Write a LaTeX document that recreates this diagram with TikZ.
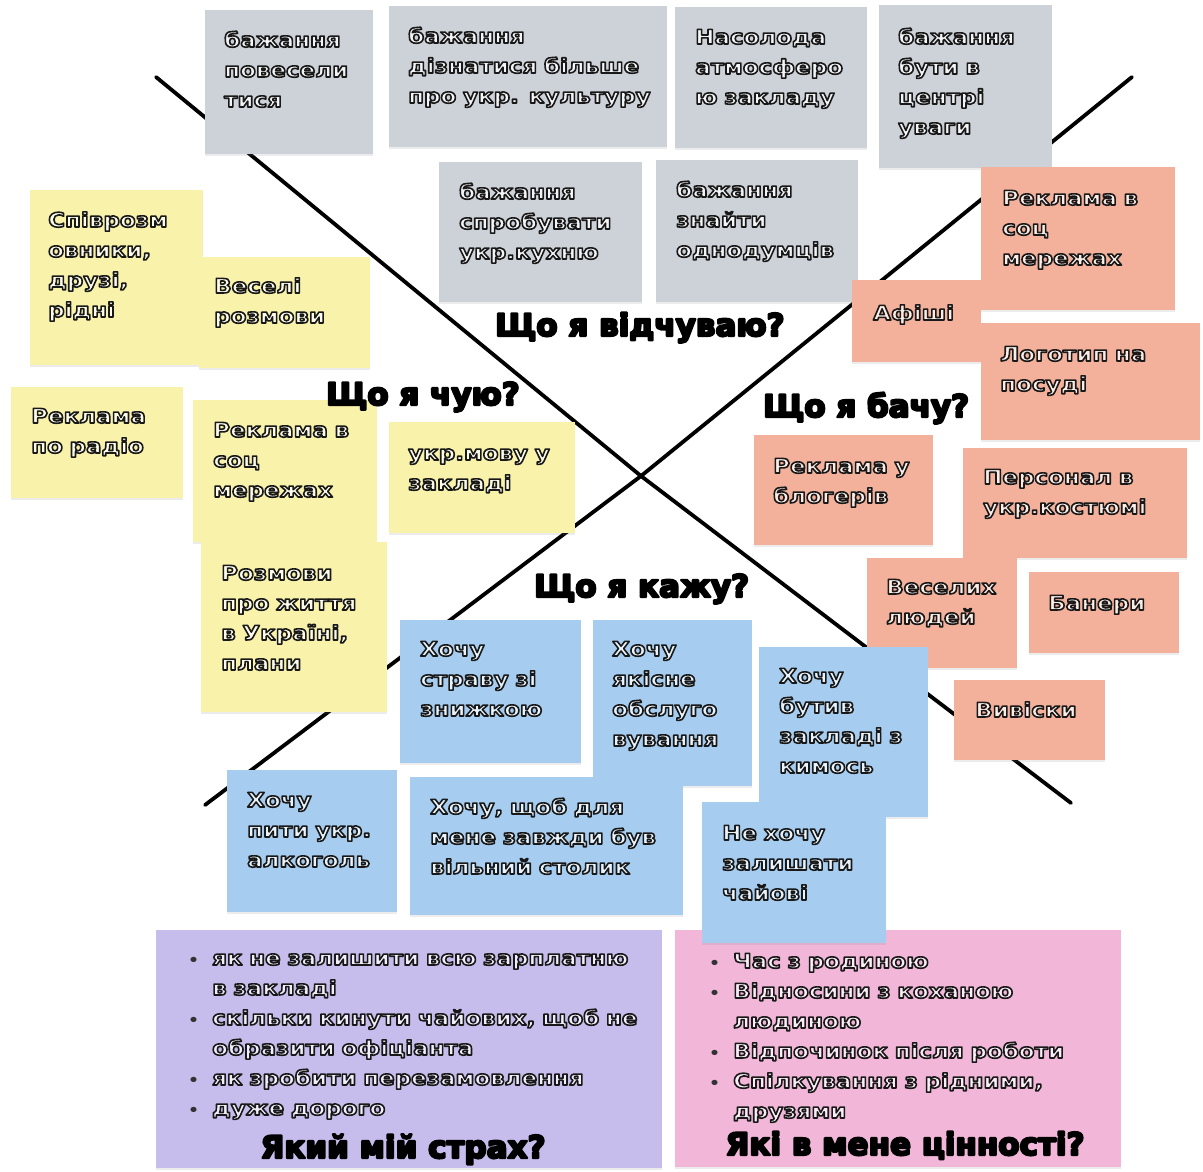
\documentclass[tikz,border=0pt]{standalone}
\usepackage{fontspec}
\newfontfamily\notefont[FakeStretch=1.15]{DejaVu Sans}
\newfontfamily\headfont{DejaVu Sans}
\usetikzlibrary{shadows}
\definecolor{gnote}{HTML}{CDD1D8}
\definecolor{ynote}{HTML}{F8F2AA}
\definecolor{snote}{HTML}{F3B19B}
\definecolor{bnote}{HTML}{A6CDF0}
\definecolor{pnote}{HTML}{C6BDEC}
\definecolor{knote}{HTML}{F1B6D8}
\newcommand\ot[1]{\leavevmode{\special{pdf:literal direct 0.1 0.1 0.1 RG 1.6 w 1 j 2 Tr}#1\special{pdf:literal direct 0 Tr}}}
\newcommand\hot[1]{\leavevmode{\special{pdf:literal direct 0 0 0 RG 2.2 w 1 j 2 Tr}#1\special{pdf:literal direct 0 Tr}}}
\newcommand\bul{\leavevmode\llap{{\fontsize{15pt}{15pt}\selectfont\color{black!80}•}\hspace{13pt}}}
\tikzset{
 note/.style={fill=#1, draw=none, anchor=north west, inner sep=0pt,
   drop shadow={opacity=0.15, shadow xshift=0pt, shadow yshift=-2pt}},
 ntext/.style={anchor=base west, inner sep=0pt, text width=470pt, align=left,
   font=\notefont\bfseries\fontsize{20pt}{30pt}\selectfont, text=#1},
 head/.style={anchor=base west, inner sep=0pt,
   font=\headfont\bfseries\fontsize{31pt}{36pt}\selectfont, text=black},
 divider/.style={line width=3.8pt, black, line cap=round},
}
\colorlet{gtxt}{white!75!gnote}
\colorlet{ytxt}{white!75!ynote}
\colorlet{stxt}{white!75!snote}
\colorlet{btxt}{white!75!bnote}
\colorlet{ptxt}{white!75!pnote}
\colorlet{ktxt}{white!75!knote}
\begin{document}
\begin{tikzpicture}[x=1pt,y=-1pt]
\useasboundingbox[fill=white] (0,0) rectangle (1203,1171);
% dividing lines
\coordinate (tl) at (156,77);
\coordinate (tr) at (1132,77);
\coordinate (bl) at (205,805);
\coordinate (br) at (1071,803);
\coordinate (c) at (641,476);
\draw[divider] (tl) -- (c) -- (br);
\draw[divider] (tr) -- (c) -- (bl);

% grey notes: feelings
\node[note=gnote, minimum width=168, minimum height=144] (g1) at (205,10) {};
\node[ntext=gtxt] (g1t) at ([shift={(19pt,-37pt)}]g1.north west) {\ot{бажання}\\\ot{повесели}\\\ot{тися}};
\node[note=gnote, minimum width=278, minimum height=141] (g2) at (389,6) {};
\node[ntext=gtxt] (g2t) at ([shift={(19pt,-37pt)}]g2.north west) {\ot{бажання}\\\ot{дізнатися більше}\\\ot{про укр. культуру}};
\node[note=gnote, minimum width=192, minimum height=141] (g3) at (675,7) {};
\node[ntext=gtxt] (g3t) at ([shift={(20pt,-37pt)}]g3.north west) {\ot{Насолода}\\\ot{атмосферо}\\\ot{ю закладу}};
\node[note=gnote, minimum width=173, minimum height=163] (g4) at (879,5) {};
\node[ntext=gtxt] (g4t) at ([shift={(19pt,-39pt)}]g4.north west) {\ot{бажання}\\\ot{бути в}\\\ot{центрі}\\\ot{уваги}};
\node[note=gnote, minimum width=203, minimum height=140] (g5) at (439,162) {};
\node[ntext=gtxt] (g5t) at ([shift={(20pt,-37pt)}]g5.north west) {\ot{бажання}\\\ot{спробувати}\\\ot{укр.кухню}};
\node[note=gnote, minimum width=202, minimum height=142] (g6) at (656,160) {};
\node[ntext=gtxt] (g6t) at ([shift={(20pt,-37pt)}]g6.north west) {\ot{бажання}\\\ot{знайти}\\\ot{однодумців}};

% yellow notes: hearing
\node[note=ynote, minimum width=173, minimum height=175] (y1) at (30,190) {};
\node[ntext=ytxt] (y1t) at ([shift={(18pt,-37pt)}]y1.north west) {\ot{Співрозм}\\\ot{овники,}\\\ot{друзі,}\\\ot{рідні}};
\node[note=ynote, minimum width=171, minimum height=111] (y2) at (199,257) {};
\node[ntext=ytxt] (y2t) at ([shift={(15pt,-36pt)}]y2.north west) {\ot{Веселі}\\\ot{розмови}};
\node[note=ynote, minimum width=172, minimum height=111] (y3) at (11,387) {};
\node[ntext=ytxt] (y3t) at ([shift={(20pt,-36pt)}]y3.north west) {\ot{Реклама}\\\ot{по радіо}};
\node[note=ynote, minimum width=184, minimum height=142] (y4) at (193,400) {};
\node[ntext=ytxt] (y4t) at ([shift={(20pt,-37pt)}]y4.north west) {\ot{Реклама в}\\\ot{соц}\\\ot{мережах}};
\node[note=ynote, minimum width=186, minimum height=111] (y5) at (389,422) {};
\node[ntext=ytxt] (y5t) at ([shift={(19pt,-38pt)}]y5.north west) {\ot{укр.мову у}\\\ot{закладі}};
\node[note=ynote, minimum width=186, minimum height=170] (y6) at (201,542) {};
\node[ntext=ytxt] (y6t) at ([shift={(20pt,-38pt)}]y6.north west) {\ot{Розмови}\\\ot{про життя}\\\ot{в Україні,}\\\ot{плани}};

% salmon notes: seeing
\node[note=snote, minimum width=194, minimum height=143] (s1) at (981,167) {};
\node[ntext=stxt] (s1t) at ([shift={(21pt,-38pt)}]s1.north west) {\ot{Реклама в}\\\ot{соц}\\\ot{мережах}};
\node[note=snote, minimum width=129, minimum height=82] (s2) at (852,280) {};
\node[ntext=stxt] (s2t) at ([shift={(21pt,-40pt)}]s2.north west) {\ot{Афіші}};
\node[note=snote, minimum width=219, minimum height=117] (s3) at (981,323) {};
\node[ntext=stxt] (s3t) at ([shift={(19pt,-38pt)}]s3.north west) {\ot{Логотип на}\\\ot{посуді}};
\node[note=snote, minimum width=179, minimum height=110] (s4) at (754,435) {};
\node[ntext=stxt] (s4t) at ([shift={(19pt,-38pt)}]s4.north west) {\ot{Реклама у}\\\ot{блогерів}};
\node[note=snote, minimum width=224, minimum height=110] (s5) at (963,448) {};
\node[ntext=stxt] (s5t) at ([shift={(20pt,-36pt)}]s5.north west) {\ot{Персонал в}\\\ot{укр.костюмі}};
\node[note=snote, minimum width=150, minimum height=110] (s6) at (867,558) {};
\node[ntext=stxt] (s6t) at ([shift={(19pt,-36pt)}]s6.north west) {\ot{Веселих}\\\ot{людей}};
\node[note=snote, minimum width=150, minimum height=81] (s7) at (1029,572) {};
\node[ntext=stxt] (s7t) at ([shift={(19pt,-38pt)}]s7.north west) {\ot{Банери}};
\node[note=snote, minimum width=151, minimum height=80] (s8) at (954,680) {};
\node[ntext=stxt] (s8t) at ([shift={(21pt,-37pt)}]s8.north west) {\ot{Вивіски}};

% blue notes: saying
\node[note=bnote, minimum width=181, minimum height=143] (b1) at (400,620) {};
\node[ntext=btxt] (b1t) at ([shift={(20pt,-36pt)}]b1.north west) {\ot{Хочу}\\\ot{страву зі}\\\ot{знижкою}};
\node[note=bnote, minimum width=159, minimum height=166] (b2) at (593,620) {};
\node[ntext=btxt] (b2t) at ([shift={(19pt,-36pt)}]b2.north west) {\ot{Хочу}\\\ot{якісне}\\\ot{обслуго}\\\ot{вування}};
\node[note=bnote, minimum width=169, minimum height=170] (b3) at (759,647) {};
\node[ntext=btxt] (b3t) at ([shift={(20pt,-36pt)}]b3.north west) {\ot{Хочу}\\\ot{бутив}\\\ot{закладі з}\\\ot{кимось}};
\node[note=bnote, minimum width=170, minimum height=142] (b4) at (227,770) {};
\node[ntext=btxt] (b4t) at ([shift={(20pt,-37pt)}]b4.north west) {\ot{Хочу}\\\ot{пити укр.}\\\ot{алкоголь}};
\node[note=bnote, minimum width=273, minimum height=138] (b5) at (410,777) {};
\node[ntext=btxt] (b5t) at ([shift={(20pt,-37pt)}]b5.north west) {\ot{Хочу, щоб для}\\\ot{мене завжди був}\\\ot{вільний столик}};

% bottom boxes
\node[note=pnote, minimum width=506, minimum height=238] (fear) at (156,930) {};
\node[ntext=ptxt] (feart) at ([shift={(56pt,-35pt)}]fear.north west)
 {\bul\ot{як не залишити всю зарплатню}\\\ot{в закладі}\\\bul\ot{скільки кинути чайових, щоб не}\\\ot{образити офіціанта}\\\bul\ot{як зробити перезамовлення}\\\bul\ot{дуже дорого}};
\node[head, anchor=base] (fearh) at ([shift={(247pt,-228pt)}]fear.north west) {\hot{Який мій страх?}};
\node[note=knote, minimum width=446, minimum height=237] (values) at (675,930) {};
\node[ntext=ktxt] (valuest) at ([shift={(58pt,-38pt)}]values.north west)
 {\bul\ot{Час з родиною}\\\bul\ot{Відносини з коханою}\\\ot{людиною}\\\bul\ot{Відпочинок після роботи}\\\bul\ot{Спілкування з рідними,}\\\ot{друзями}};
\node[head, anchor=base] (valuesh) at ([shift={(230pt,-225pt)}]values.north west) {\hot{Які в мене цінності?}};

\node[note=bnote, minimum width=184, minimum height=141] (b6) at (702,802) {};
\node[ntext=btxt] (b6t) at ([shift={(20pt,-38pt)}]b6.north west) {\ot{Не хочу}\\\ot{залишати}\\\ot{чайові}};

% quadrant headings
\node[head] (h1) at (495,336) {\hot{Що я відчуваю?}};
\node[head] (h2) at (326,405) {\hot{Що я чую?}};
\node[head] (h3) at (763,417) {\hot{Що я бачу?}};
\node[head] (h4) at (534,597) {\hot{Що я кажу?}};
\end{tikzpicture}
\end{document}
